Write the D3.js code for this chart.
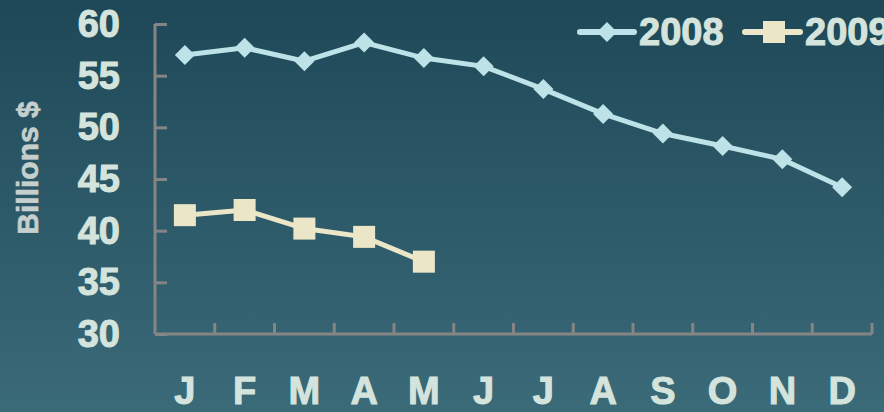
<!DOCTYPE html>
<html>
<head>
<meta charset="utf-8">
<script src="https://cdn.jsdelivr.net/npm/d3@7/dist/d3.min.js"></script>
<style>
  html, body { margin: 0; padding: 0; overflow: hidden; }
  svg { display: block; font-family: "Liberation Sans", Arial, sans-serif; font-weight: bold; }
</style>
</head>
<body>
<div id="chart"></div>
<script>
const months = ["J", "F", "M", "A", "M", "J", "J", "A", "S", "O", "N", "D"];
const values2008 = [57.0, 57.7, 56.4, 58.2, 56.7, 55.9, 53.7, 51.3, 49.4, 48.2, 46.9, 44.2];
const values2009 = [41.5, 42.0, 40.2, 39.4, 37.0];
const yTicks = [30, 35, 40, 45, 50, 55, 60];

const width = 884, height = 412;
const margin = {top: 24, right: 12, bottom: 78, left: 155};

const svg = d3.select("#chart").append("svg")
    .attr("width", width)
    .attr("height", height);

// background gradient
const defs = svg.append("defs");
const grad = defs.append("linearGradient")
    .attr("id", "bg")
    .attr("x1", 0).attr("y1", 0).attr("x2", 0).attr("y2", 1);
grad.append("stop").attr("offset", "0%").attr("stop-color", "#1e4858");
grad.append("stop").attr("offset", "100%").attr("stop-color", "#3b6a79");
svg.append("rect").attr("width", width).attr("height", height).attr("fill", "url(#bg)");

const x = d3.scaleBand()
    .domain(d3.range(months.length))
    .range([margin.left, width - margin.right]);

const y = d3.scaleLinear()
    .domain([30, 60])
    .range([height - margin.bottom, margin.top]);

const textColor = "#d4e4dd";
const axisColor = "#858585";

// y axis
const yAxis = svg.append("g")
    .attr("transform", "translate(" + margin.left + ",0)")
    .call(d3.axisRight(y).tickValues(yTicks).tickSize(12).tickFormat(""));
yAxis.select(".domain").remove();
yAxis.selectAll(".tick line").attr("stroke", axisColor).attr("stroke-width", 3);
svg.append("line")
    .attr("x1", margin.left).attr("x2", margin.left)
    .attr("y1", y(60)).attr("y2", y(30))
    .attr("stroke", axisColor).attr("stroke-width", 3);

svg.append("g").selectAll("text")
    .data(yTicks)
    .enter().append("text")
    .attr("x", 120)
    .attr("y", d => y(d))
    .attr("dy", "0.34em")
    .attr("text-anchor", "end")
    .attr("fill", textColor)
    .attr("stroke", textColor)
    .attr("stroke-width", 1)
    .style("font-size", "38px")
    .text(d => d);

// x axis
const xTickPos = d3.range(months.length + 1).map(i => margin.left + i * x.bandwidth());
svg.append("line")
    .attr("x1", margin.left).attr("x2", width - margin.right)
    .attr("y1", y(30)).attr("y2", y(30))
    .attr("stroke", axisColor).attr("stroke-width", 3);
svg.append("g").selectAll("line")
    .data(xTickPos.slice(1))
    .enter().append("line")
    .attr("x1", d => d).attr("x2", d => d)
    .attr("y1", y(30)).attr("y2", y(30) - 11)
    .attr("stroke", axisColor).attr("stroke-width", 3);

svg.append("g").selectAll("text")
    .data(months)
    .enter().append("text")
    .attr("x", (d, i) => x(i) + x.bandwidth() / 2)
    .attr("y", 404)
    .attr("text-anchor", "middle")
    .attr("fill", textColor)
    .attr("stroke", textColor)
    .attr("stroke-width", 1)
    .style("font-size", "38px")
    .text(d => d);

// axis title
svg.append("text")
    .attr("transform", "translate(38,168) rotate(-90)")
    .attr("text-anchor", "middle")
    .attr("fill", "#c5cfcd")
    .attr("stroke", "#c5cfcd")
    .attr("stroke-width", 0.6)
    .style("font-size", "30px")
    .text("Billions $");

// lines
const line = d3.line()
    .x((d, i) => x(i) + x.bandwidth() / 2)
    .y(d => y(d));

const c2008 = "#bde2e7";
const c2009 = "#ebe6c7";

svg.append("path")
    .datum(values2008)
    .attr("fill", "none")
    .attr("stroke", c2008)
    .attr("stroke-width", 5)
    .attr("d", line);

svg.append("path")
    .datum(values2009)
    .attr("fill", "none")
    .attr("stroke", c2009)
    .attr("stroke-width", 5)
    .attr("d", line);

const diamond = d3.symbol().type(d3.symbolSquare).size(200);

svg.append("g").selectAll("path")
    .data(values2008)
    .enter().append("path")
    .attr("d", diamond)
    .attr("transform", (d, i) => "translate(" + (x(i) + x.bandwidth() / 2) + "," + y(d) + ") rotate(45)")
    .attr("fill", c2008);

svg.append("g").selectAll("rect")
    .data(values2009)
    .enter().append("rect")
    .attr("x", (d, i) => x(i) + x.bandwidth() / 2 - 11)
    .attr("y", d => y(d) - 11)
    .attr("width", 22)
    .attr("height", 22)
    .attr("fill", c2009);

// legend
const legend = svg.append("g");
legend.append("line")
    .attr("x1", 580).attr("x2", 634).attr("y1", 32).attr("y2", 32)
    .attr("stroke", c2008).attr("stroke-width", 6).attr("stroke-linecap", "round");
legend.append("path")
    .attr("d", diamond)
    .attr("transform", "translate(607,32) rotate(45)")
    .attr("fill", c2008);
legend.append("text")
    .attr("x", 639).attr("y", 45)
    .attr("fill", textColor)
    .attr("stroke", textColor)
    .attr("stroke-width", 1)
    .style("font-size", "38px")
    .text("2008");
legend.append("line")
    .attr("x1", 745).attr("x2", 800).attr("y1", 32).attr("y2", 32)
    .attr("stroke", c2009).attr("stroke-width", 6).attr("stroke-linecap", "round");
legend.append("rect")
    .attr("x", 763).attr("y", 21).attr("width", 22).attr("height", 22)
    .attr("fill", c2009);
legend.append("text")
    .attr("x", 805).attr("y", 45)
    .attr("fill", textColor)
    .attr("stroke", textColor)
    .attr("stroke-width", 1)
    .style("font-size", "38px")
    .text("2009");
</script>
</body>
</html>
